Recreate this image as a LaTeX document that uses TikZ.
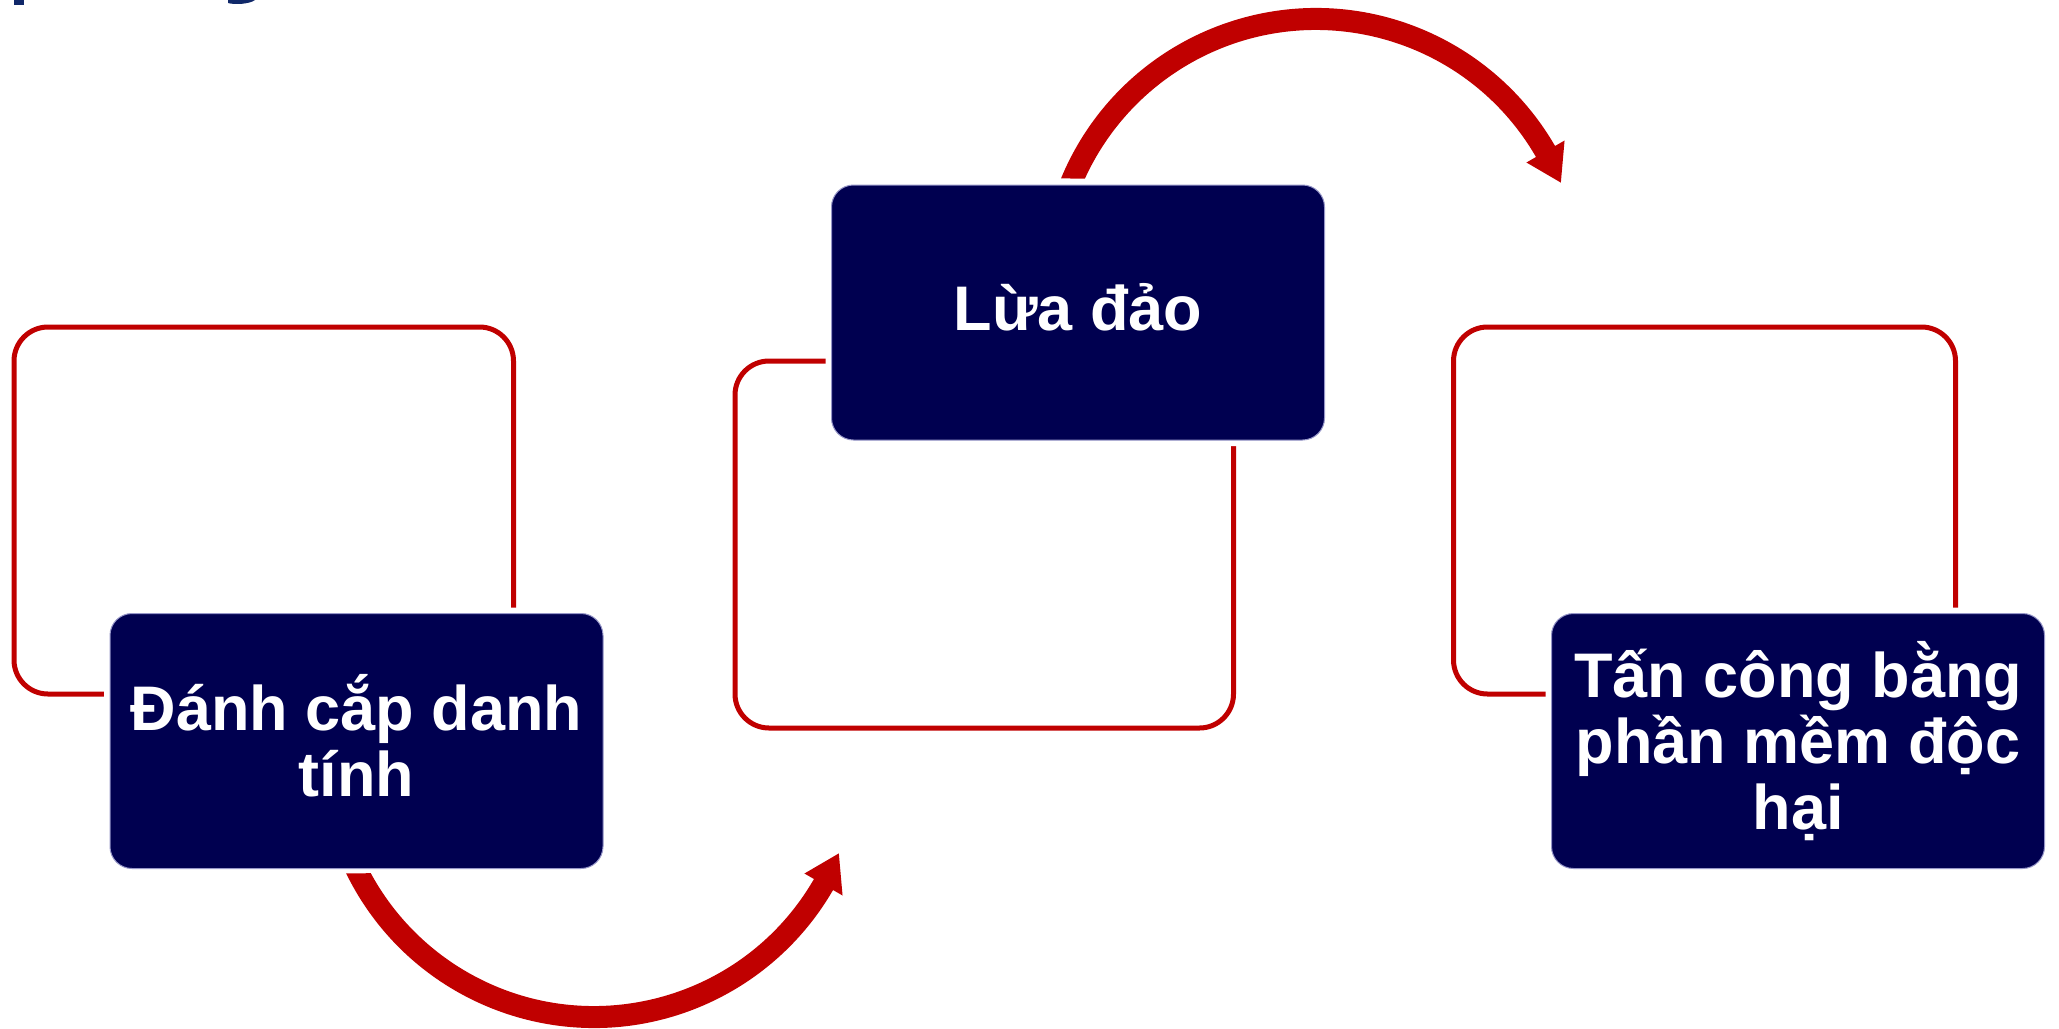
\documentclass[tikz,border=0pt]{standalone}
\usepackage{fontspec}
\setmainfont{Liberation Sans}
\usetikzlibrary{calc}
\definecolor{navy}{RGB}{0,0,80}
\definecolor{fred}{RGB}{192,0,0}
\definecolor{rimc}{RGB}{150,150,200}
\definecolor{ttl}{RGB}{16,40,105}
\begin{document}
\begin{tikzpicture}[x=0.5pt,y=-0.5pt,
  frame/.style={draw=fred, line width=2.5pt, rounded corners=17pt},
  box/.style={rectangle, rounded corners=11pt, fill=navy, draw=rimc, line width=0.5pt,
    minimum width=246.5pt, minimum height=127.5pt, text=white, align=center,
    font=\bfseries\fontsize{31.5pt}{33pt}\selectfont, inner sep=0pt,
    preaction={draw=white, line width=6pt}}]
\useasboundingbox (0,0) rectangle (2059,1028);
% title fragments cut at top
\fill[ttl] (14,0) rectangle (24,5);
\fill[ttl] (228,0) -- (255,0) .. controls (250,4) and (235,5) .. (228,3) -- cycle;
% frames
\draw[frame] (14,327) rectangle (513.5,694);
\draw[frame] (735,361) rectangle (1233.5,728);
\draw[frame] (1453.5,327) rectangle (1955.5,694);
% boxes
\node[box] (b1) at (356.5,741) {Đánh cắp danh\\tính\vphantom{ạ}};
\node[box] (b2) at (1078,312.5) {Lừa đảo\vphantom{ạ}};
\node[box] (b3) at (1798,741) {Tấn công bằng\\phần mềm độc\\hại};
% arc arrows
\coordinate (c1) at (1316,284);
\fill[fred] ($(c1)+(-157.5:276)$) arc[start angle=-157.5,end angle=-30,radius=276]
  -- ($(c1)+(-30:287)$) -- ($(c1)+(-22.5:265)$) -- ($(c1)+(-30:243)$)
  -- ($(c1)+(-30:254)$) arc[start angle=-30,end angle=-155.5,radius=254] -- cycle;
\coordinate (c2) at (594,752);
\fill[fred] ($(c2)+(153.9:276)$) arc[start angle=153.9,end angle=30,radius=276]
  -- ($(c2)+(30:287)$) -- ($(c2)+(22.5:265)$) -- ($(c2)+(30:243)$)
  -- ($(c2)+(30:254)$) arc[start angle=30,end angle=151.5,radius=254] -- cycle;
\end{tikzpicture}
\end{document}
